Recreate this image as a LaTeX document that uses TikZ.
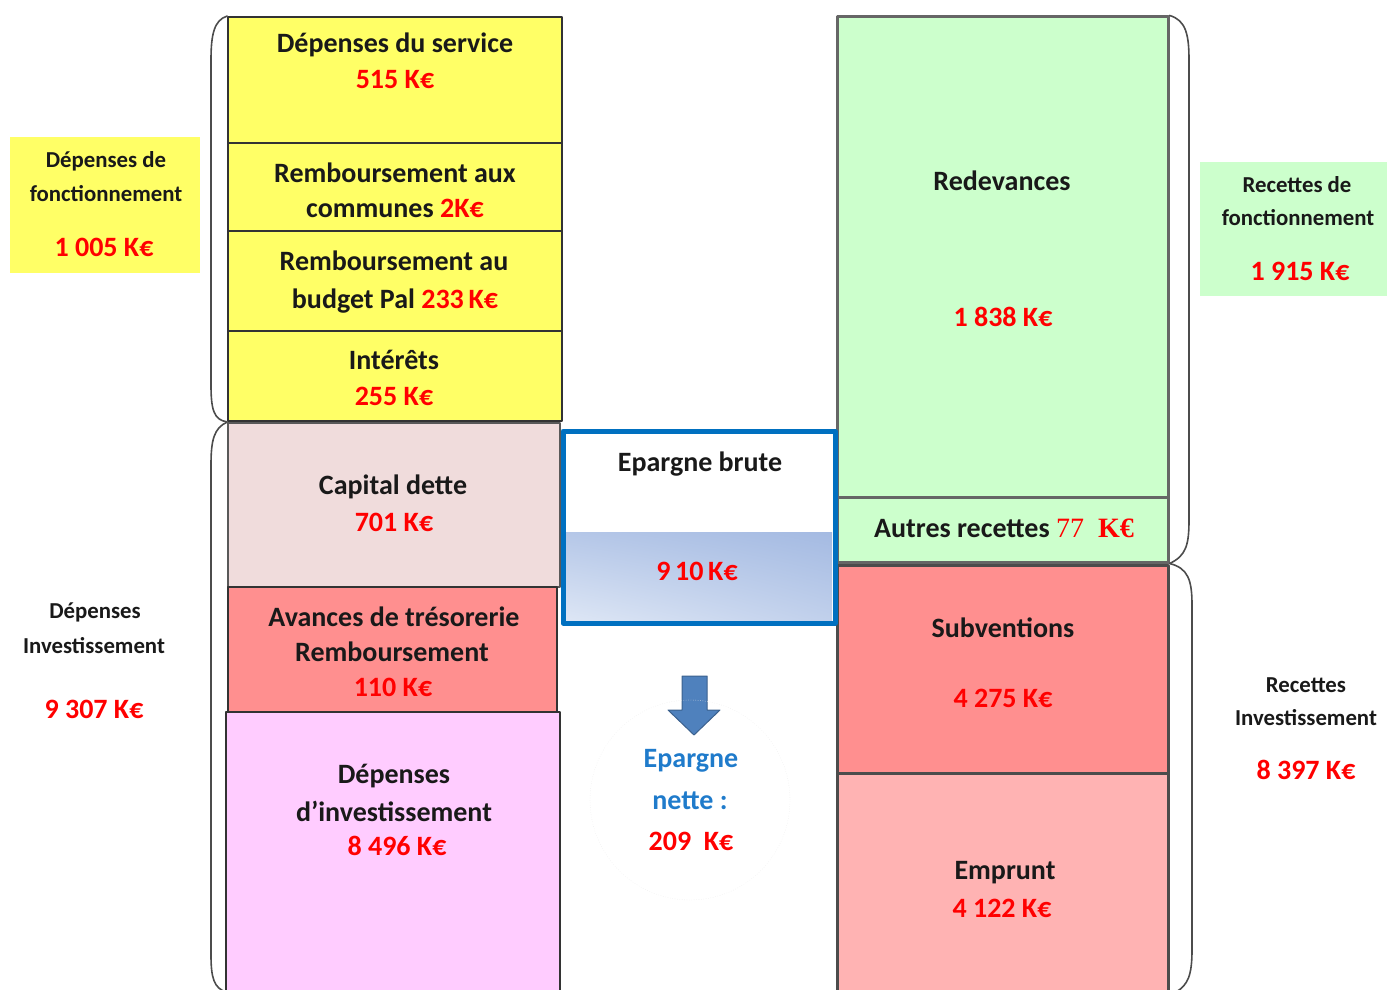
\documentclass[tikz,border=0pt]{standalone}
\usepackage{fontspec}
\setmainfont{Carlito}
\newfontfamily\serifval{Liberation Serif}
\usetikzlibrary{positioning,fit,shadings}
\definecolor{jaune}{HTML}{FFFF66}
\definecolor{vert}{HTML}{CCFFCC}
\definecolor{rose}{HTML}{F0DCDC}
\definecolor{saumon}{HTML}{FF8F8F}
\definecolor{saumonclair}{HTML}{FFB3B3}
\definecolor{mauve}{HTML}{FFCCFF}
\definecolor{rouge}{HTML}{FF0000}
\definecolor{bleu}{HTML}{0070C0}
\definecolor{bleutxt}{HTML}{1F7BCB}
\definecolor{fleche}{HTML}{4F81BD}
\definecolor{degrade1}{HTML}{A4BAE2}
\definecolor{degrade2}{HTML}{DDE6F5}
\tikzset{
  bloc/.style={draw=black!80,line width=1.8pt,inner sep=0pt},
  blocv/.style={draw=black!60,line width=3pt,inner sep=0pt},
  txt/.style={font=\fontsize{28}{34}\selectfont\bfseries,text=black!90,inner sep=0pt},
  val/.style={txt,text=rouge},
  petit/.style={font=\fontsize{22.8}{27}\selectfont\bfseries,text=black!90,inner sep=0pt},
  petitval/.style={txt,text=rouge},
  accolade/.style={draw=black!70,line width=1.6pt},
  every picture/.style={line cap=round,line join=round}}

\begin{document}
\begin{tikzpicture}[x=1pt,y=-1pt]
  \useasboundingbox (0,0) rectangle (1387,990);
  % depenses
  \node[bloc,fill=jaune,fit={(228,17) (562,143)}] (serv) {};
  \node[bloc,fill=jaune,fit={(228,143) (562,231)}] (comm) {};
  \node[bloc,fill=jaune,fit={(228,231) (562,331)}] (pal) {};
  \node[bloc,fill=jaune,fit={(228,331) (562,421)}] (inter) {};
  \node[bloc,draw=black!65,fill=rose,fit={(228,423) (560,587)}] (capital) {};
  \node[bloc,fill=saumon,fit={(228,587) (557,712)}] (avances) {};
  \node[bloc,fill=mauve,fit={(226,712) (560,1000)}] (invest) {};
  \node[txt] (servt) at (395,45) {Dépenses du service};
  \node[val] (servv) at (395,80) {515 K€};
  \node[txt] (commt) at (395,173) {Remboursement aux};
  \node[txt] (commv) at (395,208) {communes \textcolor{rouge}{2K€}};
  \node[txt] (palt) at (394,261) {Remboursement au};
  \node[txt] (palv) at (395,301) {budget Pal \textcolor{rouge}{233\,K€}};
  \node[txt] (intert) at (394,360) {Intérêts};
  \node[val] (interv) at (394,396) {255 K€};
  \node[txt] (capitalt) at (393,487) {Capital dette};
  \node[val] (capitalv) at (394,522) {701 K€};
  \node[txt] (avancest) at (394,617) {Avances de trésorerie};
  \node[txt] (avancesr) at (392,652) {Remboursement};
  \node[val] (avancesv) at (393,687) {110 K€};
  \node[txt] (investt) at (394,776) {Dépenses};
  \node[txt] (investd) at (394,811) {d’investissement};
  \node[val] (investv) at (397,846) {8 496 K€};
  % recettes
  \node[blocv,fill=vert,fit={(837,17) (1168,497)}] (redev) {};
  \node[blocv,fill=vert,fit={(837,497) (1168,562)}] (autres) {};
  \node[blocv,draw=black!70,fill=saumon,fit={(837,565) (1168,773)}] (subv) {};
  \node[blocv,draw=black!70,fill=saumonclair,fit={(837,773) (1168,1000)}] (empr) {};
  \node[txt] (redevt) at (1002,181) {Redevances};
  \node[val] (redevv) at (1003,317) {1 838 K€};
  \node[txt] (autrest) at (1004,528) {Autres recettes \textcolor{rouge}{\serifval\mdseries 77\ \ \bfseries K€}};
  \node[txt] (subvt) at (1003,628) {Subventions};
  \node[val] (subvv) at (1003,698) {4 275 K€};
  \node[txt] (emprt) at (1005,873) {Emprunt};
  \node[val] (emprv) at (1002,908) {4 122 K€};
  % epargne
  \shade[upper left=degrade1!70!degrade2,upper right=degrade1,
         lower left=degrade2,lower right=degrade2!50!degrade1] (566,532) rectangle (832,620);
  \node[draw=bleu,line width=5pt,inner sep=0pt,fit={(563,431) (835,623)}] (brute) {};
  \node[txt] (brutet) at (700,464) {Epargne brute};
  \node[val] (brutev) at (697,571) {9\,10\,K€};
  \filldraw[draw=fleche!75!black,fill=fleche,line width=1pt]
    (682,676) -- (707,676) -- (707,710) -- (720,710) -- (694,735)
    -- (668,710) -- (682,710) -- cycle;
  \node[circle,draw=black!8,dotted,minimum size=200pt] (cercle) at (690,800) {};
  \node[txt,text=bleutxt] (nettet) at (691,761) {Epargne};
  \node[txt,text=bleutxt] (netten) at (690,801) {nette :};
  \node[val] (nettev) at (691,841) {209\ \ K€};
  % totaux
  \node[fill=jaune,fit={(10,137) (200,273)},inner sep=0pt] (fonctd) {};
  \node[petit] (fonctdt) at (106,161) {Dépenses de};
  \node[petit] (fonctdf) at (106,194) {fonctionnement};
  \node[petitval] (fonctdv) at (104,247) {1 005 K€};
  \node[petit] (invdt) at (95,612) {Dépenses};
  \node[petit] (invdi) at (94,646) {Investissement};
  \node[petitval] (invdv) at (94,709) {9 307 K€};
  \node[fill=vert,fit={(1200,162) (1387,296)},inner sep=0pt] (fonctr) {};
  \node[petit] (fonctrt) at (1297,185) {Recettes de};
  \node[petit] (fonctrf) at (1298,218) {fonctionnement};
  \node[petitval] (fonctrv) at (1300,271) {1 915 K€};
  \node[petit] (invrt) at (1306,685) {Recettes};
  \node[petit] (invri) at (1306,718) {Investissement};
  \node[petitval] (invrv) at (1306,770) {8 397 K€};
  % accolades
  \draw[accolade] (serv.north west) .. controls (214,20) and (211,35) .. (211,60)
    -- (211,385) .. controls (211,410) and (214,420) .. (inter.south west);
  \draw[accolade] (capital.north west) .. controls (214,428) and (211,440) .. (211,465)
    -- (211,955) .. controls (211,978) and (214,988) .. (226,992);
  \draw[accolade] (redev.north east) .. controls (1186,20) and (1189,35) .. (1189,60)
    -- (1189,520) .. controls (1189,545) and (1186,556) .. (autres.south east);
  \draw[accolade] (subv.north east) .. controls (1188,568) and (1192,580) .. (1192,605)
    -- (1192,950) .. controls (1192,975) and (1188,985) .. (1176,992);
\end{tikzpicture}
\end{document}
